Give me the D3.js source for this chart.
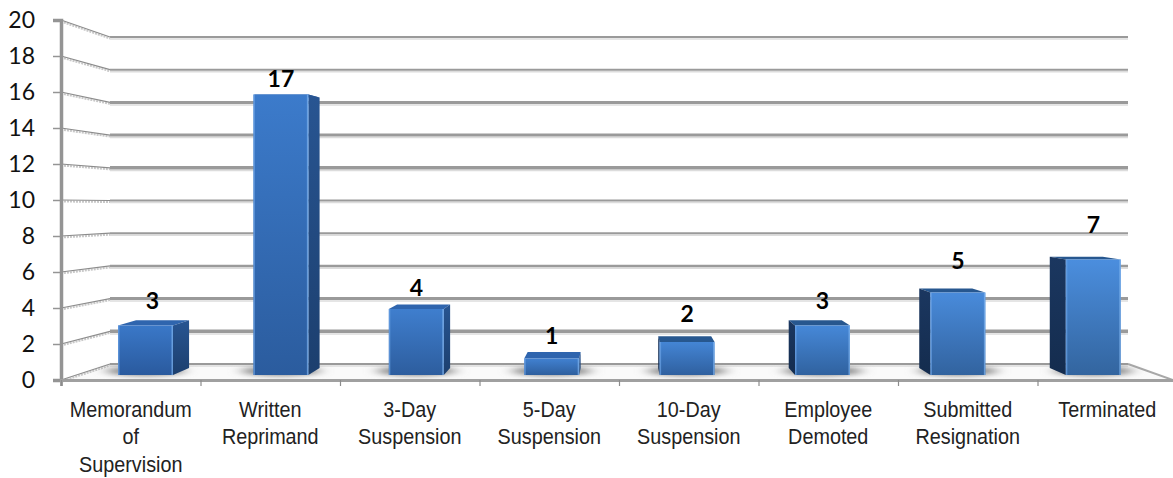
<!DOCTYPE html>
<html>
<head>
<meta charset="utf-8">
<script src="https://cdn.jsdelivr.net/npm/d3@7"></script>
<style>
  html, body { margin: 0; background: #fff; overflow: hidden; }
  svg { display: block; }
  .tick-y text { font: 23px Lato, sans-serif; fill: #111; }
  .value { font: bold 23px Lato, sans-serif; fill: #000; text-anchor: middle; }
  .category { font: 22px "Liberation Sans", sans-serif; fill: #222; text-anchor: middle; }
</style>
</head>
<body>
<script>
"use strict"

// Disciplinary actions
const categories = [
  ["Memorandum", "of", "Supervision"],
  ["Written", "Reprimand"],
  ["3-Day", "Suspension"],
  ["5-Day", "Suspension"],
  ["10-Day", "Suspension"],
  ["Employee", "Demoted"],
  ["Submitted", "Resignation"],
  ["Terminated"],
]
const counts = [3, 17, 4, 1, 2, 3, 5, 7]
const yTicks = d3.range(0, 21, 2)
// line weight of each back-wall gridline, bottom to top
const gridWeights = [2, 3.5, 3, 2.5, 2, 2, 3.5, 3, 3, 2, 2]

const width = 1173
const height = 478

const svg = d3.select("body").append("svg")
  .attr("width", width)
  .attr("height", height)

// front edge of the box, back wall, and the plane the bars stand on
const yFront = d3.scaleLinear().domain([0, 20]).range([380, 20])
const yBack = d3.scaleLinear().domain([0, 20]).range([364, 37])
const yBar = d3.scaleLinear().domain([0, 20]).range([375, 45])
const labelY = d3.scaleLinear().domain([1, 2, 4, 5, 7, 17]).range([344, 322, 296, 269, 233, 87])
const xWall = { left: 110, right: 1128 }
const xAxisScale = d3.scaleLinear().domain([0, 8]).range([61, 1177])
const xLabel = d3.scaleBand().domain(d3.range(8)).range([61, 1177])
const xBar = d3.scaleBand().domain(d3.range(8)).range([77.8, 1161]).paddingInner(0.594).paddingOuter(0.297)

// depth of a bar: points slide toward the vanishing point
const depth = ([x, y]) => [x + (620 - x) * 0.036, y + (181 - y) * 0.036]
const points = pts => pts.map(p => p.join(",")).join(" ")

const defs = svg.append("defs")
defs.append("filter").attr("id", "soft")
  .attr("x", "-30%").attr("y", "-100%").attr("width", "160%").attr("height", "300%")
  .append("feGaussianBlur").attr("stdDeviation", "7 2.5")

const gradient = (id, top, bottom) => {
  const g = defs.append("linearGradient").attr("id", id).attr("x1", 0).attr("x2", 0).attr("y1", 0).attr("y2", 1)
  g.append("stop").attr("offset", 0).attr("stop-color", top)
  g.append("stop").attr("offset", 1).attr("stop-color", bottom)
}

// the right half of the chart is lit a little brighter
const frontTop = d3.interpolateRgb("#3a78c8", "#4b8ede")
const frontBottom = d3.interpolateRgb("#2a5a9e", "#33659f")
counts.forEach((_, i) => gradient(`front-${i}`, frontTop(i / 7), frontBottom(i / 7)))
gradient("side-right", "#285592", "#1c3f6e")
gradient("side-left", "#1b3760", "#142c4e")

// Floor
svg.append("polygon")
  .attr("points", points([[61, yFront(0)], [xWall.left, yBack(0)], [xWall.right, yBack(0)], [1173, yFront(0)]]))
  .attr("fill", "#fafafa")

// Back wall gridlines and their short returns down the left wall
const grid = svg.append("g")
yTicks.forEach((t, i) => {
  grid.append("line")
    .attr("x1", xWall.left).attr("x2", xWall.right)
    .attr("y1", yBack(t) + gridWeights[i] / 2 + 1).attr("y2", yBack(t) + gridWeights[i] / 2 + 1)
    .attr("stroke", "#dcdcdc").attr("stroke-width", 1.5)
  grid.append("line")
    .attr("x1", xWall.left).attr("x2", xWall.right)
    .attr("y1", yBack(t)).attr("y2", yBack(t))
    .attr("stroke", "#9a9a9a").attr("stroke-width", gridWeights[i])
  grid.append("line")
    .attr("x1", 61).attr("x2", xWall.left)
    .attr("y1", yFront(t) + 1.5).attr("y2", yBack(t) + 1.5)
    .attr("stroke", "#c8c8c8").attr("stroke-width", 2).attr("stroke-dasharray", "2 1")
  grid.append("line")
    .attr("x1", 61).attr("x2", xWall.left)
    .attr("y1", yFront(t)).attr("y2", yBack(t))
    .attr("stroke", "#8c8c8c").attr("stroke-width", 1.2)
})

// Floor edge on the right
svg.append("polyline")
  .attr("points", points([[xWall.right, yBack(0)], [1173, yFront(0)]]))
  .attr("fill", "none").attr("stroke", "#a8a8a8").attr("stroke-width", 2)

// Shadows under the bars
svg.append("g").selectAll("ellipse").data(counts).join("ellipse")
  .attr("cx", (_, i) => xBar(i) + xBar.bandwidth() / 2)
  .attr("cy", 371)
  .attr("rx", xBar.bandwidth() / 2 + 12)
  .attr("ry", 5)
  .attr("fill", "#8a8a8a")
  .attr("filter", "url(#soft)")

// Axes
const yAxis = svg.append("g").attr("class", "tick-y").attr("transform", "translate(61 0)")
  .call(d3.axisLeft(yFront).tickValues(yTicks).tickSize(8).tickPadding(18))
yAxis.select(".domain").attr("stroke", "#949494").attr("stroke-width", 3.5)
yAxis.selectAll("line").attr("stroke", "#949494").attr("stroke-width", 1.5)

const xAxis = svg.append("g").attr("transform", `translate(0 ${yFront(0)})`)
  .call(d3.axisBottom(xAxisScale).tickValues(d3.range(9)).tickSize(6).tickFormat(""))
xAxis.select(".domain").attr("stroke", "#a0a0a0").attr("stroke-width", 3)
xAxis.selectAll("line").attr("stroke", "#8c8c8c").attr("stroke-width", 1.2)

// Bars
const bars = svg.append("g").selectAll("g").data(counts).join("g")

bars.each(function (value, i) {
  const bar = d3.select(this)
  const left = xBar(i)
  const right = left + xBar.bandwidth()
  const top = yBar(value)
  const bottom = yBar(0)

  bar.append("polygon")
    .attr("points", points([[left, top], [right, top], depth([right, top]), depth([left, top])]))
    .attr("fill", i < 4 ? "#2f65ae" : "#27578f")

  // only the side facing the vanishing point shows
  const edge = right < 620 ? right : left
  bar.append("polygon")
    .attr("points", points([[edge, top], depth([edge, top]), depth([edge, bottom]), [edge, bottom]]))
    .attr("fill", `url(#side-${right < 620 ? "right" : "left"})`)

  bar.append("rect")
    .attr("x", left).attr("y", top)
    .attr("width", xBar.bandwidth()).attr("height", bottom - top)
    .attr("fill", `url(#front-${i})`)

  // pale rim on the outer edges of the front face
  bar.append("line")
    .attr("x1", left + 0.75).attr("x2", left + 0.75).attr("y1", top).attr("y2", bottom)
    .attr("stroke", "#6ba3e6").attr("stroke-width", 1.5).attr("stroke-opacity", 0.7)
  bar.append("line")
    .attr("x1", right - 0.75).attr("x2", right - 0.75).attr("y1", top).attr("y2", bottom)
    .attr("stroke", "#7fb4ee").attr("stroke-width", 1.5).attr("stroke-opacity", 0.7)
})

// Value labels
svg.append("g").selectAll("text").data(counts).join("text")
  .attr("class", "value")
  .attr("x", (_, i) => xBar(i) + xBar.bandwidth() / 2 + (i === 0 ? 7 : 0))
  .attr("y", d => labelY(d))
  .text(d => d)

// Category labels, squeezed horizontally to a narrow face
svg.append("g").selectAll("text").data(categories).join("text")
  .attr("class", "category")
  .attr("transform", (_, i) => `translate(${xLabel(i) + xLabel.bandwidth() / 2} 417) scale(0.9 1)`)
  .selectAll("tspan").data(d => d).join("tspan")
  .attr("x", 0)
  .attr("dy", (_, i) => i ? 27.5 : 0)
  .text(d => d)
</script>
</body>
</html>
